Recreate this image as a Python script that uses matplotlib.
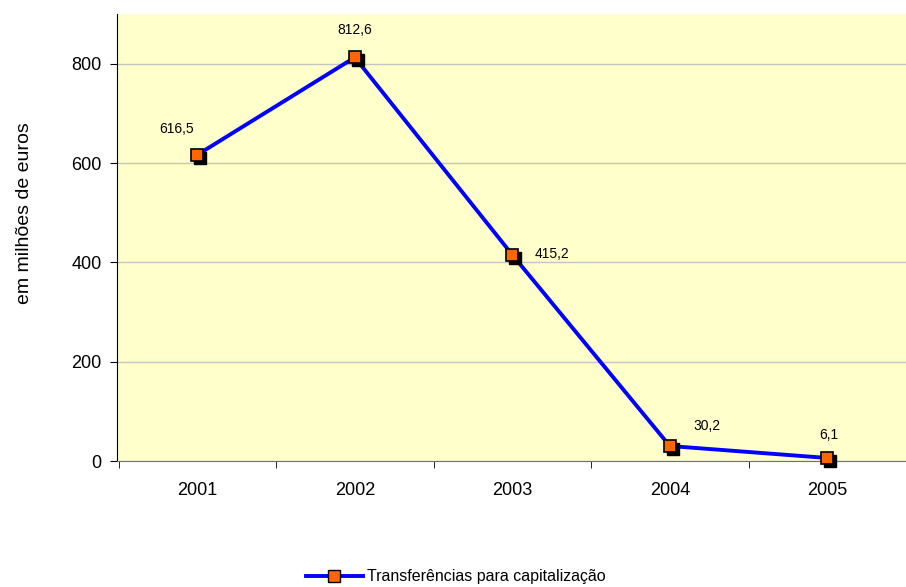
import matplotlib
matplotlib.use("Agg")
import matplotlib.pyplot as plt
import matplotlib.transforms as mtransforms
from matplotlib.lines import Line2D

plt.rcParams["font.family"] = ["Liberation Sans", "DejaVu Sans"]

years = ["2001", "2002", "2003", "2004", "2005"]
valores = [616.5, 812.6, 415.2, 30.2, 6.1]
rotulos = ["616,5", "812,6", "415,2", "30,2", "6,1"]
# label offsets in pixels relative to each point
rot_dx = [-21, 0, 40, 37, 2]
rot_dy = [26, 27, 1, 20, 23]

LINE = "#0000FF"
FACE = "#FF6600"

fig = plt.figure(figsize=(9.06, 5.87), dpi=100)
ax = fig.add_axes([117 / 906, 1 - 461 / 587, 1 - 117 / 906, (461 - 14) / 587])
ax.set_facecolor("#FFFFCC")

x = list(range(len(years)))
ax.plot(x, valores, color=LINE, lw=2.8, zorder=3)

# drop shadow behind markers
shadow = mtransforms.offset_copy(ax.transData, fig=fig, x=3, y=-3, units="dots")
ax.plot(x, valores, ls="none", marker="s", ms=8, mfc="black", mec="black",
        transform=shadow, zorder=4, clip_on=False)
ax.plot(x, valores, ls="none", marker="s", ms=8, mfc=FACE, mec="black",
        mew=1.2, zorder=5, clip_on=False)

for xi, v, t, dx, dy in zip(x, valores, rotulos, rot_dx, rot_dy):
    ax.annotate(t, (xi, v), xytext=(dx * 0.72, dy * 0.72), textcoords="offset points",
                ha="center", va="center", fontsize=10, zorder=6)

ax.set_xlim(-0.51, 4.453)
ax.set_ylim(0, 900)
ax.set_yticks([0, 200, 400, 600, 800])
ax.yaxis.grid(True, color="#C4C4C4", lw=1)
ax.set_axisbelow(True)

ax.set_xticks(x)
ax.set_xticklabels(years)
ax.set_xticks([i - 0.5 for i in range(len(years))] + [4.5], minor=True)
ax.tick_params(axis="x", which="major", length=0, pad=15, labelsize=13)
ax.tick_params(axis="x", which="minor", length=5, direction="out", color="black")
ax.tick_params(axis="y", length=5, direction="out", labelsize=13, pad=6)

for s in ["top", "right"]:
    ax.spines[s].set_visible(False)
ax.spines["left"].set_color("black")
ax.spines["bottom"].set_color("#707070")

ax.set_ylabel("em milhões de euros", fontsize=14)
ax.yaxis.set_label_coords(-0.107, 0.555)

handle = Line2D([], [], color=LINE, lw=2.8, marker="s", ms=8, mfc=FACE, mec="black")
fig.legend([handle], ["Transferências para capitalização"], loc="center",
           bbox_to_anchor=(0.503, 1 - 577 / 587), frameon=False, fontsize=11.5,
           handlelength=3.6, handletextpad=0.25)

fig.savefig("out.png", dpi=100)
